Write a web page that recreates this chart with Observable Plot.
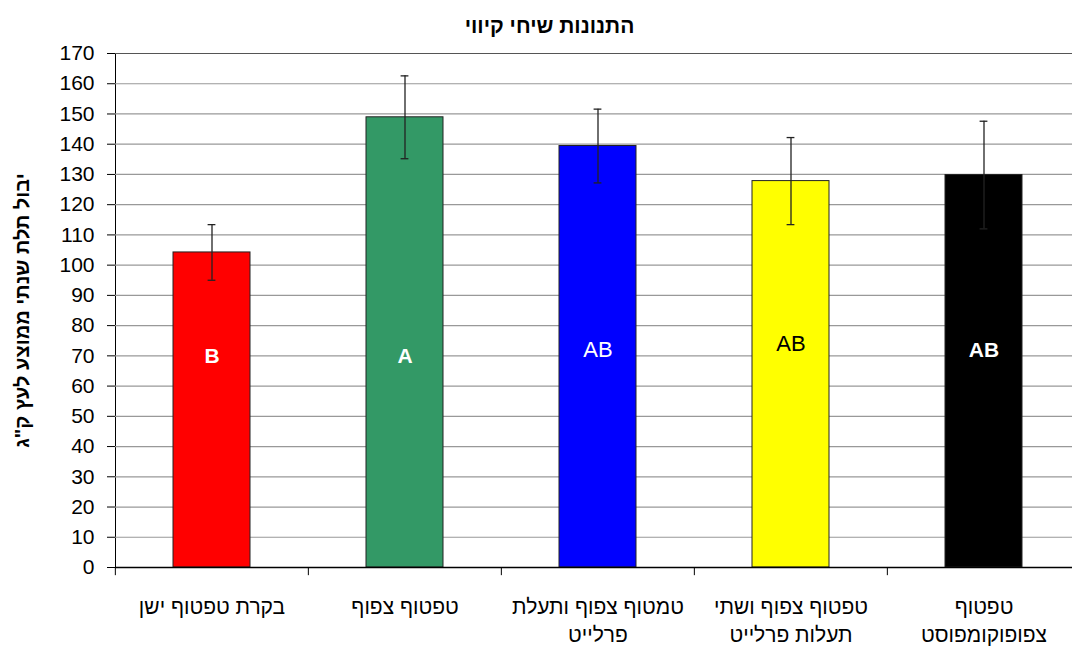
<!DOCTYPE html>
<html><head><meta charset="utf-8">
<script src="https://cdn.jsdelivr.net/npm/d3@7"></script>
<script src="https://cdn.jsdelivr.net/npm/@observablehq/plot@0.6"></script>
<style>
html,body{margin:0;padding:0;background:#fff;overflow:hidden;width:1072px;height:647px;}
#chart svg{display:block;max-width:none !important;overflow:visible;}
</style>
</head><body><div id="chart"></div>
<script>
const categories = ["בקרת טפטוף ישן", "טפטוף צפוף", "טמטוף צפוף ותעלת\nפרלייט", "טפטוף צפוף ושתי\nתעלות פרלייט", "טפטוף\nצפופוקומפוסט"];
const means = [104.2, 148.9, 139.4, 127.8, 129.8];
const errors = [9.2, 13.7, 12.2, 14.4, 17.8];
const colors = ["#ff0000", "#339966", "#0000ff", "#ffff00", "#000000"];
const letters = ["B", "A", "AB", "AB", "AB"];
const letterY = [69.8, 69.8, 72.0, 73.8, 72.0];
const letterColors = ["#ffffff", "#ffffff", "#ffffff", "#000000", "#ffffff"];
const letterBold = [true, true, false, false, true];
const yTicks = d3.range(0, 171, 10);
const title = "התנונות שיחי קיווי";
const yLabel = "יבול תלת שנתי ממוצע לעץ ק\"ג";

const data = categories.map((c, i) => ({
  cat: c, mean: means[i], lo: means[i] - errors[i], hi: means[i] + errors[i],
  color: colors[i], letter: letters[i], ly: letterY[i], lc: letterColors[i], bold: letterBold[i]
}));

const font = "'Liberation Sans', Arial, sans-serif";
const chart = Plot.plot({
  width: 1085, height: 647,
  marginTop: 53, marginBottom: 80, marginLeft: 115, marginRight: 4,
  style: {fontFamily: font, fontSize: "21px", color: "#000", background: "#fff", overflow: "visible"},
  x: {domain: categories, paddingInner: 0.6, paddingOuter: 0.3, axis: null},
  y: {domain: [0, 170], ticks: yTicks, tickSize: 8, tickPadding: 13, line: true, label: null},
  marks: [
    Plot.ruleY(yTicks.filter(t => t > 0), {y: d => d, stroke: d => d === 170 ? "#555" : "#999", strokeWidth: 1.2}),
    Plot.barY(data, {x: "cat", y: "mean", fill: "color", stroke: "#222", strokeWidth: 1}),
    Plot.ruleX(data, {x: "cat", y1: "lo", y2: "hi", stroke: "#222", strokeWidth: 1.3}),
    Plot.tickY(data, {x: "cat", y: "lo", stroke: "#222", strokeWidth: 1.3, insetLeft: 34.6, insetRight: 34.6}),
    Plot.tickY(data, {x: "cat", y: "hi", stroke: "#222", strokeWidth: 1.3, insetLeft: 34.6, insetRight: 34.6}),
    Plot.ruleY([0], {stroke: "#000", strokeWidth: 1.5}),
    Plot.ruleX(categories, {x: d => d, dx: -96.65, y1: 0, y2: -2.7, stroke: "#000", strokeWidth: 1}),
    Plot.text(data.filter(d => d.bold), {x: "cat", y: "ly", text: "letter", fill: "lc", fontWeight: "bold", fontSize: 21}),
    Plot.text(data.filter(d => !d.bold), {x: "cat", y: "ly", text: "letter", fill: "lc", fontSize: 22}),
    Plot.text(data, {x: "cat", text: "cat", frameAnchor: "bottom", lineAnchor: "top", dy: 26, lineHeight: 1.36, fontSize: 21, fill: "#000"}),
    Plot.text([yLabel], {frameAnchor: "left", textAnchor: "middle", dx: -93, rotate: -90, fontSize: 20, fontWeight: "bold", fill: "#000"}),
    Plot.text([title], {frameAnchor: "top", dx: -49, dy: -35, fontSize: 21, fontWeight: "bold", fill: "#000"})
  ]
});
document.getElementById("chart").appendChild(chart);
</script>
</body></html>
